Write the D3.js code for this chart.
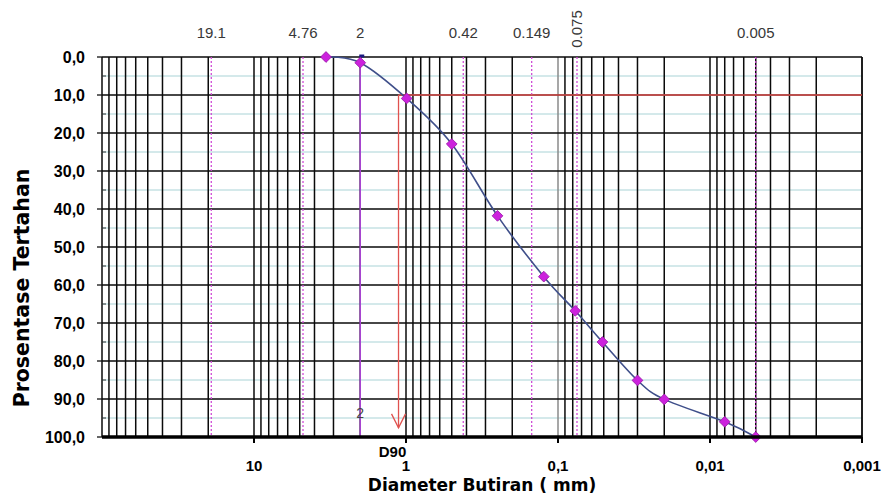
<!DOCTYPE html>
<html>
<head>
<meta charset="utf-8">
<script src="https://cdn.jsdelivr.net/npm/d3@7/dist/d3.min.js"></script>
<style>
  body { margin: 0; background: #fff; }
  svg { display: block; }
  text { font-family: "Liberation Sans", Arial, sans-serif; }
  .title { font-family: "DejaVu Sans", Verdana, sans-serif; font-weight: bold; fill: #000; }
</style>
</head>
<body>
<svg id="chart" width="884" height="498"></svg>
<script>
// grain size analysis (mm) vs percent retained
const grainSize = [3.36, 2.0, 0.99, 0.5, 0.25, 0.124, 0.077, 0.051, 0.030, 0.020, 0.008, 0.005];
const retained  = [0, 1.5, 10.9, 22.9, 41.8, 57.8, 66.8, 75.0, 85.1, 90.1, 96.0, 100];

// reference sieve sizes shown on top
const refSizes  = [19.1, 4.76, 2, 0.42, 0.149, 0.075, 0.005];
const refLabels = ['19.1', '4.76', '2', '0.42', '0.149', '0.075', '0.005'];
const solidRef  = 2;            // drawn as solid line from the curve down
const solidRefTop = 1.5;

// D90 construction
const d90Size = 1.12;
const d90Pct  = 10;
const d90ArrowPct = 97.6;

const xTicks      = [10, 1, 0.1, 0.01, 0.001];
const xTickLabels = ['10', '1', '0,1', '0,01', '0,001'];
const yTicks      = [0, 10, 20, 30, 40, 50, 60, 70, 80, 90, 100];
const yTickLabels = ['0,0', '10,0', '20,0', '30,0', '40,0', '50,0', '60,0', '70,0', '80,0', '90,0', '100,0'];
const yMinor      = [5, 15, 25, 35, 45, 55, 65, 75, 85, 95];
const decades     = [10, 1, 0.1, 0.01, 0.001];

const svg = d3.select('#chart');

const x = d3.scaleLog().domain([100, 0.001]).range([102, 862]);
const y = d3.scaleLinear().domain([0, 100]).range([57, 437]);

const [x0, x1] = x.range();
const [y0, y1] = y.range();

// plot background
svg.append('rect')
   .attr('x', x0).attr('y', y0)
   .attr('width', x1 - x0).attr('height', y1 - y0)
   .attr('fill', '#fff');

// minor horizontal grid
svg.append('g').selectAll('line')
   .data(yMinor)
   .enter().append('line')
   .attr('x1', x0).attr('x2', x1)
   .attr('y1', d => y(d)).attr('y2', d => y(d))
   .attr('stroke', '#a9d3d6').attr('stroke-width', 1);

// vertical log grid
const gridVals = decades.flatMap(d => d3.range(1, 10).map(k => k * d)).concat([100]);
svg.append('g').selectAll('line')
   .data(gridVals)
   .enter().append('line')
   .attr('x1', d => x(d)).attr('x2', d => x(d))
   .attr('y1', y0).attr('y2', y1)
   .attr('stroke', d => Math.abs(d - 0.1) < 1e-9 ? '#8a8a8a' : '#0a0a0a')
   .attr('stroke-width', 1.5);

// major horizontal grid
svg.append('g').selectAll('line')
   .data(yTicks)
   .enter().append('line')
   .attr('x1', x0).attr('x2', x1)
   .attr('y1', d => y(d)).attr('y2', d => y(d))
   .attr('stroke', '#0a0a0a').attr('stroke-width', 1.3);

// right border
svg.append('line')
   .attr('x1', x1).attr('x2', x1).attr('y1', y0).attr('y2', y1)
   .attr('stroke', '#111').attr('stroke-width', 1.5);

// minor ticks on left axis
svg.append('g').selectAll('line')
   .data(yMinor)
   .enter().append('line')
   .attr('x1', x0).attr('x2', x0 + 4)
   .attr('y1', d => y(d)).attr('y2', d => y(d))
   .attr('stroke', '#333');

// major ticks on left axis
svg.append('g').selectAll('line')
   .data(yTicks)
   .enter().append('line')
   .attr('x1', x0 - 5).attr('x2', x0)
   .attr('y1', d => y(d)).attr('y2', d => y(d))
   .attr('stroke', '#111').attr('stroke-width', 1.3);

// dashed reference lines
svg.append('g').selectAll('line')
   .data(refSizes.filter(d => d !== solidRef))
   .enter().append('line')
   .attr('x1', d => x(d)).attr('x2', d => x(d))
   .attr('y1', y0).attr('y2', y1)
   .attr('stroke', '#d04cd6').attr('stroke-width', 1.3)
   .attr('stroke-dasharray', '2,2');

// solid reference at 2 mm
svg.append('line')
   .attr('x1', x(solidRef)).attr('x2', x(solidRef))
   .attr('y1', y(solidRefTop)).attr('y2', y1)
   .attr('stroke', '#a944d2').attr('stroke-width', 1.5);
svg.append('line')
   .attr('x1', x(solidRef) - 1).attr('x2', x(solidRef) + 4)
   .attr('y1', y(0) - 1).attr('y2', y(0) - 1)
   .attr('stroke', '#1a1a80').attr('stroke-width', 3);

// D90 construction (red)
svg.append('line')
   .attr('x1', x(d90Size)).attr('x2', x1)
   .attr('y1', y(d90Pct)).attr('y2', y(d90Pct))
   .attr('stroke', '#e0524f').attr('stroke-width', 1.3);
svg.append('line')
   .attr('x1', x(d90Size)).attr('x2', x(d90Size))
   .attr('y1', y(d90Pct)).attr('y2', y(d90ArrowPct))
   .attr('stroke', '#e0524f').attr('stroke-width', 1.3);
const tipX = x(d90Size), tipY = y(d90ArrowPct);
svg.append('path')
   .attr('d', `M${tipX - 7},${tipY - 14}L${tipX},${tipY}L${tipX + 7},${tipY - 14}`)
   .attr('fill', 'none')
   .attr('stroke', '#e0524f').attr('stroke-width', 1.3);

// grading curve
const pts = grainSize.map((g, i) => [x(g), y(retained[i])]);
const line = d3.line().curve(d3.curveCardinal.tension(0));
svg.append('path')
   .attr('d', line(pts))
   .attr('fill', 'none')
   .attr('stroke', '#3f4f8a').attr('stroke-width', 1.6);

svg.append('g').selectAll('path')
   .data(pts)
   .enter().append('path')
   .attr('d', d3.symbol().type(d3.symbolSquare).size(58))
   .attr('transform', d => `translate(${d[0]},${d[1]}) rotate(45)`)
   .attr('fill', '#cc22dd')
   .attr('stroke', '#9b1aa8').attr('stroke-width', 0.8);

// bottom axis
svg.append('line')
   .attr('x1', x0).attr('x2', x1)
   .attr('y1', y1).attr('y2', y1)
   .attr('stroke', '#000').attr('stroke-width', 3.5);
svg.append('g').selectAll('line')
   .data(xTicks)
   .enter().append('line')
   .attr('x1', d => x(d)).attr('x2', d => x(d))
   .attr('y1', y1).attr('y2', y1 + 6)
   .attr('stroke', '#000').attr('stroke-width', 2);

svg.append('g').selectAll('text')
   .data(xTicks)
   .enter().append('text')
   .attr('x', d => x(d)).attr('y', 471)
   .attr('text-anchor', 'middle')
   .attr('font-size', 15).attr('font-weight', 'bold')
   .text((d, i) => xTickLabels[i]);

// y tick labels
svg.append('g').selectAll('text')
   .data(yTicks)
   .enter().append('text')
   .attr('x', 85).attr('y', d => y(d))
   .attr('dy', '0.36em')
   .attr('text-anchor', 'end')
   .attr('font-size', 16).attr('font-weight', 'bold')
   .text((d, i) => yTickLabels[i]);

// top sieve labels
svg.append('g').selectAll('text')
   .data(refSizes)
   .enter().append('text')
   .attr('transform', d => d === 0.075
       ? `translate(${x(d) + 5},29) rotate(-90)`
       : `translate(${x(d)},38)`)
   .attr('text-anchor', 'middle')
   .attr('font-size', 15)
   .attr('fill', '#383838')
   .text((d, i) => refLabels[i]);

// small "2" near bottom of solid line
svg.append('text')
   .attr('x', x(solidRef)).attr('y', 418)
   .attr('text-anchor', 'middle')
   .attr('font-size', 14).attr('fill', '#444')
   .text('2');

// D90 label
svg.append('text')
   .attr('x', x(d90Size) - 6).attr('y', 457)
   .attr('text-anchor', 'middle')
   .attr('font-size', 15).attr('font-weight', 'bold')
   .text('D90');

// axis titles
svg.append('text')
   .attr('class', 'title')
   .attr('x', 482).attr('y', 491)
   .attr('text-anchor', 'middle')
   .attr('font-size', 17)
   .text('Diameter Butiran ( mm)');

svg.append('text')
   .attr('class', 'title')
   .attr('transform', 'translate(29,288) rotate(-90)')
   .attr('text-anchor', 'middle')
   .attr('font-size', 20.5)
   .text('Prosentase Tertahan');
</script>
</body>
</html>
